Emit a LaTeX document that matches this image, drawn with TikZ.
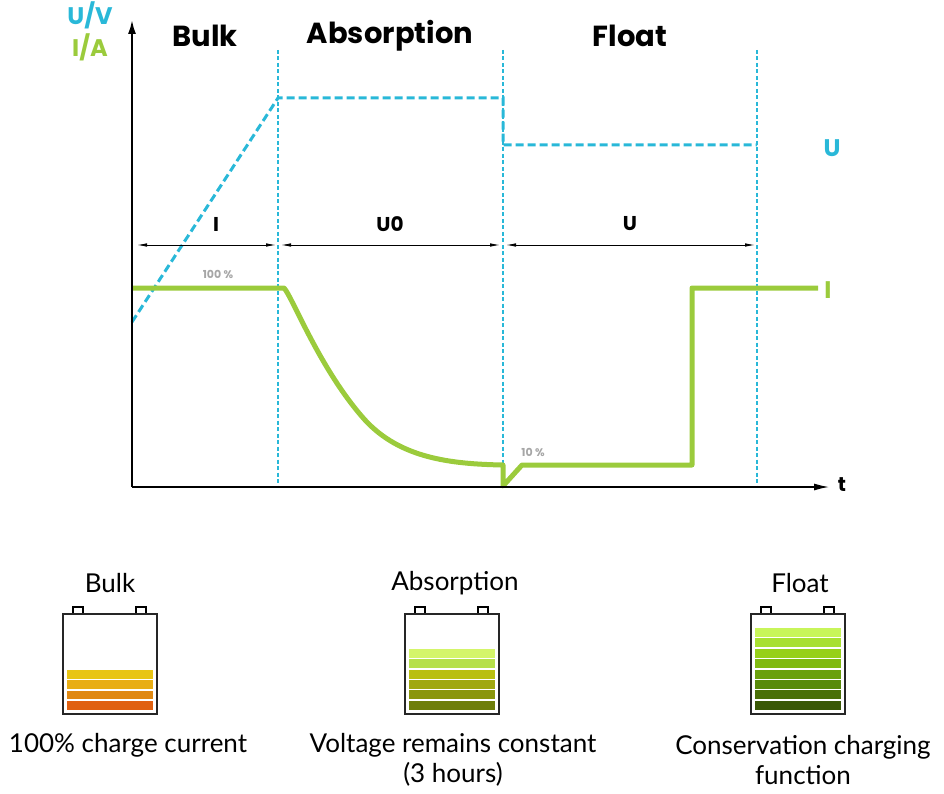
\documentclass[tikz,border=0pt]{standalone}
\usepackage{fontspec}
\setmainfont{Poppins}
\newfontfamily\lt{Lato}
\usetikzlibrary{arrows.meta}
\definecolor{cb}{HTML}{29B8D8}
\definecolor{cg}{HTML}{9BCB3C}
\definecolor{a1}{HTML}{E8C515}\definecolor{a2}{HTML}{E8AE15}\definecolor{a3}{HTML}{E08912}\definecolor{a4}{HTML}{E06010}
\definecolor{b1}{HTML}{D4F56A}\definecolor{b2}{HTML}{B6E04A}\definecolor{b3}{HTML}{B9BF10}\definecolor{b4}{HTML}{A0A810}\definecolor{b5}{HTML}{8A960C}\definecolor{b6}{HTML}{6E7E0A}
\definecolor{f1}{HTML}{C8F55A}\definecolor{f2}{HTML}{A8E030}\definecolor{f3}{HTML}{96D018}\definecolor{f4}{HTML}{80BA10}\definecolor{f5}{HTML}{6AA00C}\definecolor{f6}{HTML}{588A0A}\definecolor{f7}{HTML}{4A7008}\definecolor{f8}{HTML}{3A5806}
\begin{document}
\begin{tikzpicture}[x=1pt,y=-1pt,
 vd/.style={draw=cb,dash pattern=on 4pt off 2.5pt,line width=1.4pt},
 ud/.style={cb,dash pattern=on 8pt off 4pt,line width=3pt},
 gr/.style={cg,line width=5pt,line join=round},
 dim/.style={{Latex[length=10pt,width=3.5pt]}-{Latex[length=10pt,width=3.5pt]},line width=0.8pt},
 hd/.style={font=\bfseries\fontsize{29}{29}\selectfont},
 lb/.style={font=\bfseries\fontsize{20}{20}\selectfont},
 cl/.style={font=\bfseries\fontsize{24}{24}\selectfont},
 bt/.style={font=\lt\fontsize{26}{30}\selectfont,align=center},
 bat/.style={line width=2.5pt,draw=black!85}]
\useasboundingbox (0,0) rectangle (944,794);
% axes
\coordinate (o) at (132,487);
\coordinate (ytop) at (132,20);
\coordinate (xend) at (830,487);
% verticals
\draw[vd] (278,50) -- (278,487);
\draw[vd] (503,50) -- (503,487);
\draw[vd] (757,50) -- (757,487);
% U curve
\draw[ud] (132,322) -- (278,98) -- (503,98) -- (503,145) -- (757,145);
% I curve
\draw[gr] (132,288) -- (284,288) .. controls (292,296) and (320,370) .. (365,420) .. controls (400,458) and (450,464) .. (503,465) -- (503,486) -- (522,465) -- (692,465) -- (692,288) -- (818,288);
\draw[line width=2pt,-{Latex[length=14pt,width=8pt]}] (o) -- (ytop);
\draw[line width=2pt,-{Latex[length=16pt,width=7pt]}] (o) -- (xend);
\node[lb] (t) at (842,485) {t};
% dims
\draw[dim] (137,245) -- (276,245);
\draw[dim] (281,245) -- (500,245);
\draw[dim] (506,245) -- (755,245);
\node[lb] (l1) at (216,224) {I};
\node[lb] (l2) at (390,224) {U0};
\node[lb] (l3) at (630,224) {U};
\node[font=\bfseries\fontsize{11}{11}\selectfont,black!35] (p1) at (218,274) {100 \%};
\node[font=\bfseries\fontsize{11}{11}\selectfont,black!35] (p2) at (533,452) {10 \%};
% headers
\node[hd] (h1) at (205,36) {Bulk};
\node[hd] (h2) at (390,36) {Absorption};
\node[hd] (h3) at (630,36) {Float};
\node[cb,cl] (uv) at (90,15) {U/V};
\node[cg,cl] (ia) at (90,47) {I/A};
\node[cb,cl] (ul) at (832,148) {U};
\node[cg,cl] (il) at (828,290) {I};
% batteries
\newcommand\battery[4]{% x0, stripe count, top y, colours
 \draw[line width=1.3pt,fill=white] (#1+10,607) rectangle (#1+20,614);
 \draw[line width=1.3pt,fill=white] (#1+73,607) rectangle (#1+83,614);
 \draw[bat,fill=white] (#1,614) rectangle (#1+94,714);
 \pgfmathsetmacro\h{(711-#3)/#2}
 \foreach \c [count=\i from 0] in {#4} \fill[\c] (#1+4,#3+\i*\h) rectangle (#1+90,#3+\i*\h+\h-1.3);
}
\battery{63}{4}{670}{a1,a2,a3,a4}
\battery{405}{6}{649}{b1,b2,b3,b4,b5,b6}
\battery{751}{8}{628}{f1,f2,f3,f4,f5,f6,f7,f8}
\node[bt] (n1) at (110,583) {Bulk};
\node[bt] (n2) at (455,583) {Absorption};
\node[bt] (n3) at (800,583) {Float};
\node[bt] (c1) at (128,745) {100\% charge current};
\node[bt] (c2) at (453,760) {Voltage remains constant\\(3 hours)};
\node[bt] (c3) at (803,760) {Conservation charging\\function};
\end{tikzpicture}
\end{document}
